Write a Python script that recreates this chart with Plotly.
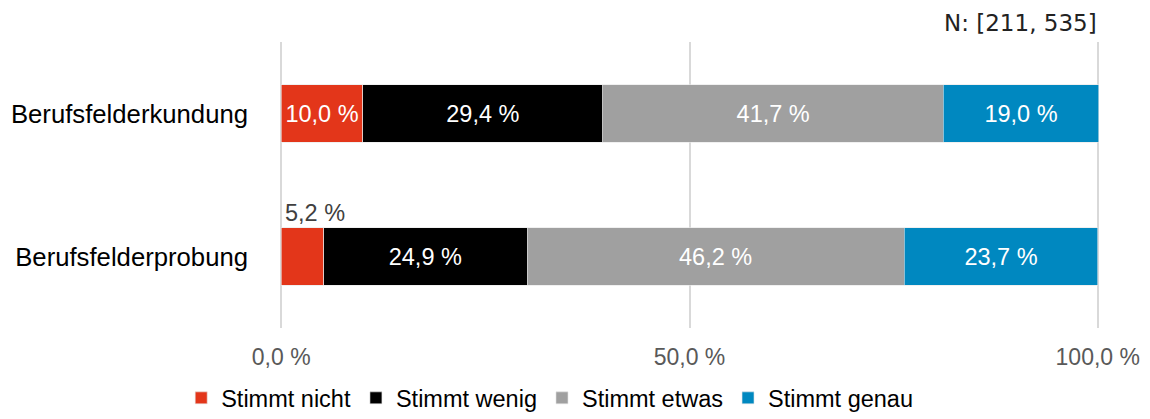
import plotly.graph_objects as go

categories = ["Berufsfelderkundung", "Berufsfelderprobung"]
series_names = ["Stimmt nicht", "Stimmt wenig", "Stimmt etwas", "Stimmt genau"]
stimmt_nicht = [10.0, 5.2]
stimmt_wenig = [29.4, 24.9]
stimmt_etwas = [41.7, 46.2]
stimmt_genau = [19.0, 23.7]
series_values = [stimmt_nicht, stimmt_wenig, stimmt_etwas, stimmt_genau]
colors = ["#E3361A", "#000000", "#A0A0A0", "#0088C0"]
tick_vals = [0, 50, 100]
tick_labels = ["0,0 %", "50,0 %", "100,0 %"]
n_label = "N: [211, 535]"

FONT = "Liberation Sans, Arial, sans-serif"


def fmt(v):
    return f"{v:.1f}".replace(".", ",") + " %"


fig = go.Figure()
small_labels = []
for name, vals, col in zip(series_names, series_values, colors):
    texts = []
    for cat, v in zip(categories, vals):
        if v < 8:
            texts.append("")
            small_labels.append((cat, v))
        else:
            texts.append(fmt(v))
    fig.add_trace(go.Bar(
        name=name, y=categories, x=vals, orientation="h",
        marker=dict(color=col, line=dict(color="#e6e6e6", width=0.6)),
        text=texts, textposition="inside", insidetextanchor="middle",
        textfont=dict(color="white", size=23.5, family=FONT),
        width=0.4, hoverinfo="skip",
    ))

# Labels for segments too narrow to hold their own text
for cat, v in small_labels:
    fig.add_annotation(x=0, y=cat, xref="x", yref="y", text=fmt(v),
                       showarrow=False, xanchor="left", yanchor="middle",
                       xshift=2, yshift=44,
                       font=dict(size=23.5, color="#404040", family=FONT))

fig.add_annotation(x=1, y=1, xref="paper", yref="paper", text=n_label,
                   showarrow=False, xanchor="right", yanchor="middle",
                   xshift=0, yshift=19,
                   font=dict(size=23, color="#222222",
                             family="DejaVu Sans, sans-serif"))

fig.update_layout(
    barmode="stack",
    width=1150, height=419,
    margin=dict(l=280, r=51, t=42, b=91, autoexpand=False),
    plot_bgcolor="white", paper_bgcolor="white",
    font=dict(family=FONT, size=23.5, color="#000000"),
    uniformtext=dict(mode=False),
    xaxis=dict(range=[-0.15, 100.15], tickvals=tick_vals, ticktext=tick_labels,
               showgrid=True, gridcolor="#d9d9d9", gridwidth=2,
               zeroline=False, showline=False, ticks="", automargin=False,
               tickfont=dict(size=23, color="#595959", family=FONT),
               ticklabelstandoff=13),
    yaxis=dict(categoryorder="array", categoryarray=categories,
               autorange="reversed", showgrid=False, zeroline=False,
               showline=False, ticks="", ticklabelstandoff=31, automargin=False,
               tickfont=dict(size=25.7, color="#000000", family=FONT)),
    legend=dict(orientation="h", x=0.478, xref="container", xanchor="center",
                y=-0.245, yref="paper", yanchor="middle",
                font=dict(size=23.5, color="#000000", family=FONT),
                itemwidth=30, traceorder="normal", tracegroupgap=0),
    showlegend=True,
)

fig.write_html("out.html")
